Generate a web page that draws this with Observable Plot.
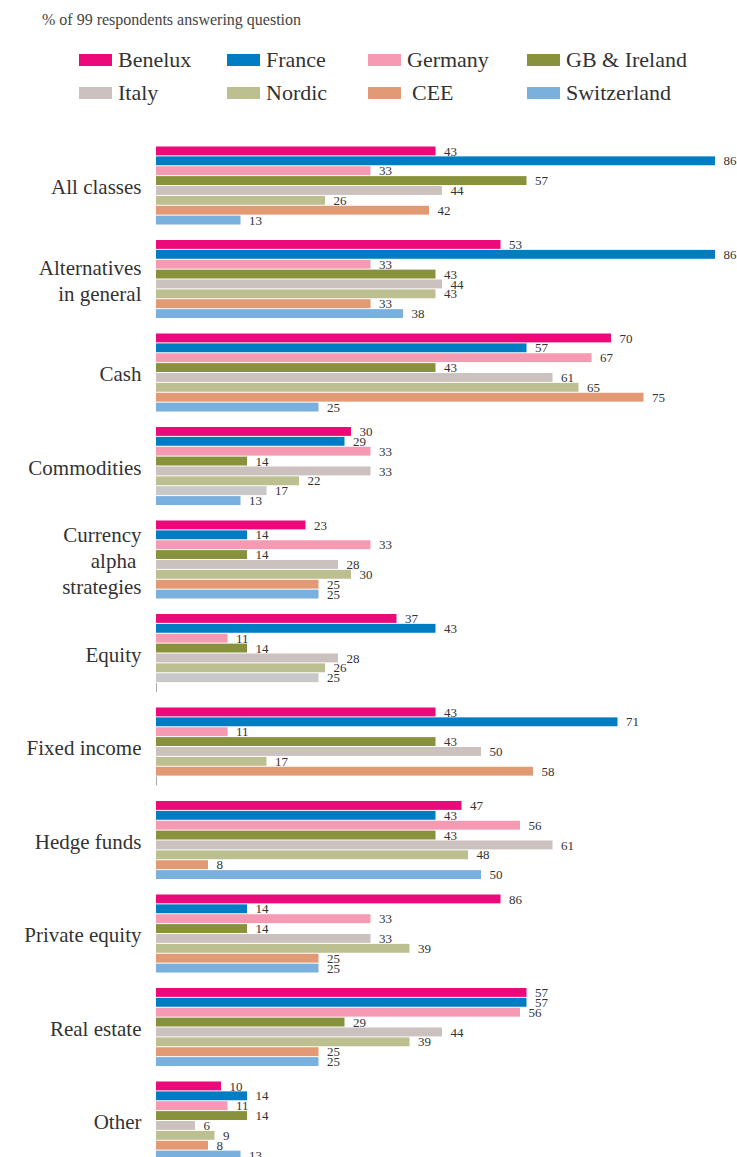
<!DOCTYPE html>
<html><head><meta charset="utf-8">
<script src="https://cdn.jsdelivr.net/npm/d3@7"></script>
<script src="https://cdn.jsdelivr.net/npm/@observablehq/plot@0.6"></script>
<style>
html,body{margin:0;padding:0;background:#fff;overflow:hidden;}
#header{position:relative;height:130px;font-family:"Liberation Serif",serif;color:#333;}
#title{position:absolute;left:42px;top:11px;font-size:16px;color:#444;}
.item{position:absolute;display:flex;align-items:center;font-size:22px;line-height:26px;white-space:nowrap;color:#333;}
.sw{width:33px;height:12px;margin-right:6px;}
#chart svg{overflow:visible;}
</style></head><body>
<div id="header"><div id="title">% of 99 respondents answering question</div></div>
<div id="chart"></div>
<script>
const categories = ["All classes","Alternatives in general","Cash","Commodities","Currency alpha strategies","Equity","Fixed income","Hedge funds","Private equity","Real estate","Other"];
const categoryTickLabels = ["All classes","Alternatives\nin general","Cash","Commodities","Currency\nalpha \nstrategies","Equity","Fixed income","Hedge funds","Private equity","Real estate","Other"];
const series = ["Benelux","France","Germany","GB & Ireland","Italy","Nordic","CEE","Switzerland"];
const seriesColors = ["#ec0a7a","#007cc3","#f59ab2","#88913c","#cbc1be","#bcbf8f","#e19a73","#7ab0dd"];

// values per category, in series order
const allClasses     = [43, 86, 33, 57, 44, 26, 42, 13];
const alternatives   = [53, 86, 33, 43, 44, 43, 33, 38];
const cash           = [70, 57, 67, 43, 61, 65, 75, 25];
const commodities    = [30, 29, 33, 14, 33, 22, 17, 13];
const currencyAlpha  = [23, 14, 33, 14, 28, 30, 25, 25];
const equity         = [37, 43, 11, 14, 28, 26, 25, 0];
const fixedIncome    = [43, 71, 11, 43, 50, 17, 58, 0];
const hedgeFunds     = [47, 43, 56, 43, 61, 48, 8, 50];
const privateEquity  = [53, 14, 33, 14, 33, 39, 25, 25];
const realEstate     = [57, 57, 56, 29, 44, 39, 25, 25];
const other          = [10, 14, 11, 14, 6, 9, 8, 13];
const valuesByCategory = [allClasses, alternatives, cash, commodities, currencyAlpha, equity, fixedIncome, hedgeFunds, privateEquity, realEstate, other];

// printed label differing from bar length in the original
const labelOverrides = [["Private equity", "Benelux", "86"]];
// bars printed in neutral grey in the original
const greyBars = [["Commodities", "CEE"], ["Equity", "CEE"]];

const key = (c, s) => c + "|" + s;
const overrideMap = new Map(labelOverrides.map(([c, s, t]) => [key(c, s), t]));
const greySet = new Set(greyBars.map(([c, s]) => key(c, s)));
const tickLabelOf = new Map(categories.map((c, i) => [c, categoryTickLabels[i]]));

const data = [];
categories.forEach((c, ci) => series.forEach((s, si) => {
  const v = valuesByCategory[ci][si];
  data.push({category: c, series: s, value: v, label: overrideMap.get(key(c, s)) ?? String(v), grey: greySet.has(key(c, s))});
}));

// legend
const header = document.getElementById("header");
const colLeft = [79, 227, 368, 527];
const rowTop = [47, 80];
series.forEach((s, i) => {
  const it = document.createElement("div");
  it.className = "item";
  it.style.left = colLeft[i % 4] + "px";
  it.style.top = rowTop[Math.floor(i / 4)] + "px";
  const sw = document.createElement("span");
  sw.className = "sw";
  sw.style.background = seriesColors[i];
  const tx = document.createElement("span");
  tx.textContent = s;
  if (s === "CEE") tx.style.marginLeft = "5px";
  it.appendChild(sw); it.appendChild(tx);
  header.appendChild(it);
});

const chart = Plot.plot({
  width: 737,
  height: 1030,
  marginTop: 16,
  marginBottom: 0,
  marginLeft: 156,
  marginRight: 22,
  style: {fontFamily: "Liberation Serif, serif", color: "#333", background: "#fff"},
  x: {domain: [0, 86], axis: null},
  y: {domain: series, axis: null, paddingInner: 0.1, paddingOuter: 0.05, round: false},
  fy: {domain: categories, paddingInner: 0.155, paddingOuter: 0, label: null, round: false},
  color: {domain: series, range: seriesColors},
  marks: [
    Plot.barX(data.filter(d => d.value > 0 && !d.grey), {x: "value", y: "series", fy: "category", fill: "series"}),
    Plot.barX(data.filter(d => d.value > 0 && d.grey), {x: "value", y: "series", fy: "category", fill: "#c8c8c8"}),
    Plot.tickX(data.filter(d => d.value === 0), {x: "value", y: "series", fy: "category", stroke: "#aaa", strokeWidth: 1}),
    Plot.text(data.filter(d => d.value > 0), {x: "value", y: "series", fy: "category", text: "label", textAnchor: "start", dx: 8, fontSize: 13, fill: "#333"}),
    Plot.axisFy({anchor: "left", tickSize: 0, tickPadding: 15, fontSize: 21, lineHeight: 1.24, label: null, fill: "#333", tickFormat: d => tickLabelOf.get(d)})
  ]
});
document.getElementById("chart").appendChild(chart);
</script>
</body></html>
